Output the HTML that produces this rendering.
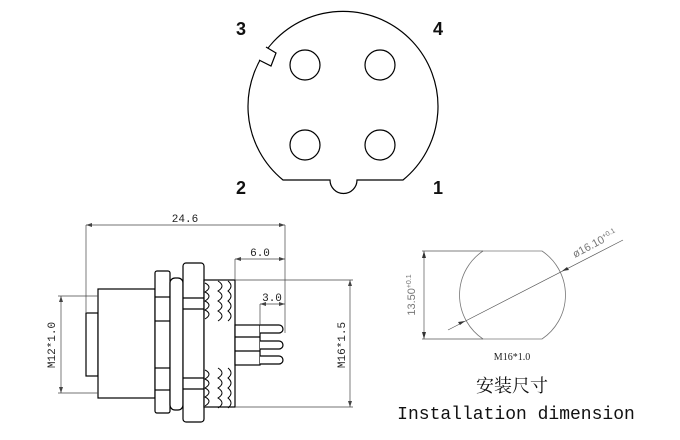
<!DOCTYPE html>
<html><head><meta charset="utf-8"><style>
html,body{margin:0;padding:0;background:#fff;}
svg{display:block}
</style></head><body>
<svg width="680" height="440" viewBox="0 0 680 440" xmlns="http://www.w3.org/2000/svg">
<!-- Top face view -->
<g fill="none" stroke="#000" stroke-width="1.2">
  <path d="M283 180 L330 180 A13.5 13.5 0 0 0 357 180 L403 180 A95 95 0 1 0 283 180 Z" fill="#fff"/>
  <path d="M266 47 L276 53 L271 66 L259 60" fill="#fff"/>
  <circle cx="305" cy="65" r="15"/>
  <circle cx="380" cy="65" r="15"/>
  <circle cx="305" cy="145" r="15"/>
  <circle cx="380" cy="145" r="15"/>
</g>
<g font-family="Liberation Sans, sans-serif" font-size="18" font-weight="bold" fill="#111" text-anchor="middle">
  <text x="241" y="35">3</text><text x="438" y="35">4</text>
  <text x="241" y="194">2</text><text x="438" y="194">1</text>
</g>

<!-- Side view connector -->
<g fill="#fff" stroke="#000" stroke-width="1.2">
  <rect x="86" y="313" width="12" height="63"/>
  <rect x="98" y="289" width="57" height="109"/>
  <rect x="155" y="271" width="15" height="142" rx="2"/>
  <line x1="155" y1="297" x2="170" y2="297"/><line x1="155" y1="321" x2="170" y2="321"/>
  <line x1="155" y1="368" x2="170" y2="368"/><line x1="155" y1="390" x2="170" y2="390"/>
  <rect x="170" y="278" width="13" height="132" rx="5"/>
  <rect x="183" y="263" width="21" height="159" rx="3"/>
  <line x1="183" y1="298" x2="204" y2="298"/><line x1="183" y1="309" x2="204" y2="309"/>
  <line x1="183" y1="378" x2="204" y2="378"/><line x1="183" y1="389" x2="204" y2="389"/>
  <rect x="204" y="280" width="31" height="127"/>
  <rect x="235" y="325" width="25" height="40"/>
  <line x1="235" y1="337" x2="260" y2="337"/><line x1="235" y1="351" x2="260" y2="351"/>
  <path d="M260 325 H279 A4 4 0 0 1 279 333 H260"/>
  <path d="M260 341 H279 A4 4 0 0 1 279 349 H260"/>
  <path d="M260 356 H279 A4 4 0 0 1 279 364 H260"/>
</g>
<g fill="none" stroke="#000" stroke-width="1">
  <path d="M205 283 q8 4 0 9 q8 4 0 9 q8 4 0 9 q8 4 0 9"/>
  <path d="M218 281 q8 5 0 10 q8 5 0 10 q8 5 0 10 q8 5 0 10"/>
  <path d="M228 281 q6 5 0 10 q6 5 0 10 q6 5 0 10 q6 5 0 10"/>
  <path d="M205 370 q8 4 0 9 q8 4 0 9 q8 4 0 9 q8 4 0 9"/>
  <path d="M218 368 q8 5 0 10 q8 5 0 10 q8 5 0 10 q8 5 0 10"/>
  <path d="M228 368 q6 5 0 10 q6 5 0 10 q6 5 0 10 q6 5 0 10"/>
</g>
<!-- dimensions side -->
<g stroke="#444" stroke-width="0.7" fill="none">
  <line x1="86" y1="225" x2="285" y2="225"/>
  <line x1="86" y1="225" x2="86" y2="312"/>
  <line x1="285" y1="225" x2="285" y2="333"/>
  <line x1="235" y1="259" x2="285" y2="259"/>
  <line x1="235" y1="259" x2="235" y2="280"/>
  <line x1="260" y1="304" x2="285" y2="304"/>
  <line x1="260" y1="304" x2="260" y2="325"/>
  <line x1="61" y1="296" x2="61" y2="393"/>
  <line x1="58" y1="296" x2="98" y2="296"/>
  <line x1="58" y1="393" x2="98" y2="393"/>
  <line x1="350" y1="280" x2="350" y2="407"/>
  <line x1="235" y1="280" x2="353" y2="280"/>
  <line x1="235" y1="407" x2="353" y2="407"/>
</g>
<g fill="#444">
  <path d="M86 225 l6 -2 v4z"/><path d="M285 225 l-6 -2 v4z"/>
  <path d="M235 259 l6 -2 v4z"/><path d="M285 259 l-6 -2 v4z"/>
  <path d="M260 304 l6 -2 v4z"/><path d="M285 304 l-6 -2 v4z"/>
  <path d="M61 296 l-2 6 h4z"/><path d="M61 393 l-2 -6 h4z"/>
  <path d="M350 280 l-2 6 h4z"/><path d="M350 407 l-2 -6 h4z"/>
</g>
<g font-family="Liberation Mono, monospace" font-size="11" fill="#222" text-anchor="middle">
  <text x="185" y="222">24.6</text>
  <text x="260" y="256">6.0</text>
  <text x="272" y="301">3.0</text>
  <text transform="translate(55 345) rotate(-90)">M12*1.0</text>
  <text transform="translate(345 345) rotate(-90)">M16*1.5</text>
</g>

<!-- Installation dimension -->
<path d="M483 251 H542 A53 53 0 0 1 542 339 H483 A53 53 0 0 1 483 251 Z" fill="none" stroke="#777" stroke-width="0.8"/>
<g stroke="#555" stroke-width="0.7" fill="none">
  <line x1="422" y1="251" x2="483" y2="251"/>
  <line x1="422" y1="339" x2="483" y2="339"/>
  <line x1="424" y1="251" x2="424" y2="339"/>
  <line x1="448" y1="330" x2="623" y2="240"/>
</g>
<g fill="#333">
  <path d="M424 251 l-2 7 h4z"/><path d="M424 339 l-2 -7 h4z"/>
  <path d="M465 321 l-7 1 l2 3z"/><path d="M562 271 l7 -1 l-2 -3z"/>
</g>
<g font-family="Liberation Sans, sans-serif" fill="#777">
  <text transform="translate(415 295) rotate(-90)" font-size="11" text-anchor="middle">13.50<tspan font-size="7" dy="-4">+0.1</tspan></text>
  <text transform="translate(575 258) rotate(-28)" font-size="11">ø16.10<tspan font-size="7" dy="-4">+0.1</tspan></text>
</g>
<text x="512" y="360" font-family="Liberation Serif, serif" font-size="10" fill="#222" text-anchor="middle">M16*1.0</text>
<text x="512" y="392" font-family="Liberation Serif, 'Noto Serif CJK SC', serif" font-size="18" fill="#111" text-anchor="middle">安装尺寸</text>
<text x="516" y="419" font-family="Liberation Mono, monospace" font-size="18" fill="#111" text-anchor="middle">Installation dimension</text>
</svg>
</body></html>
